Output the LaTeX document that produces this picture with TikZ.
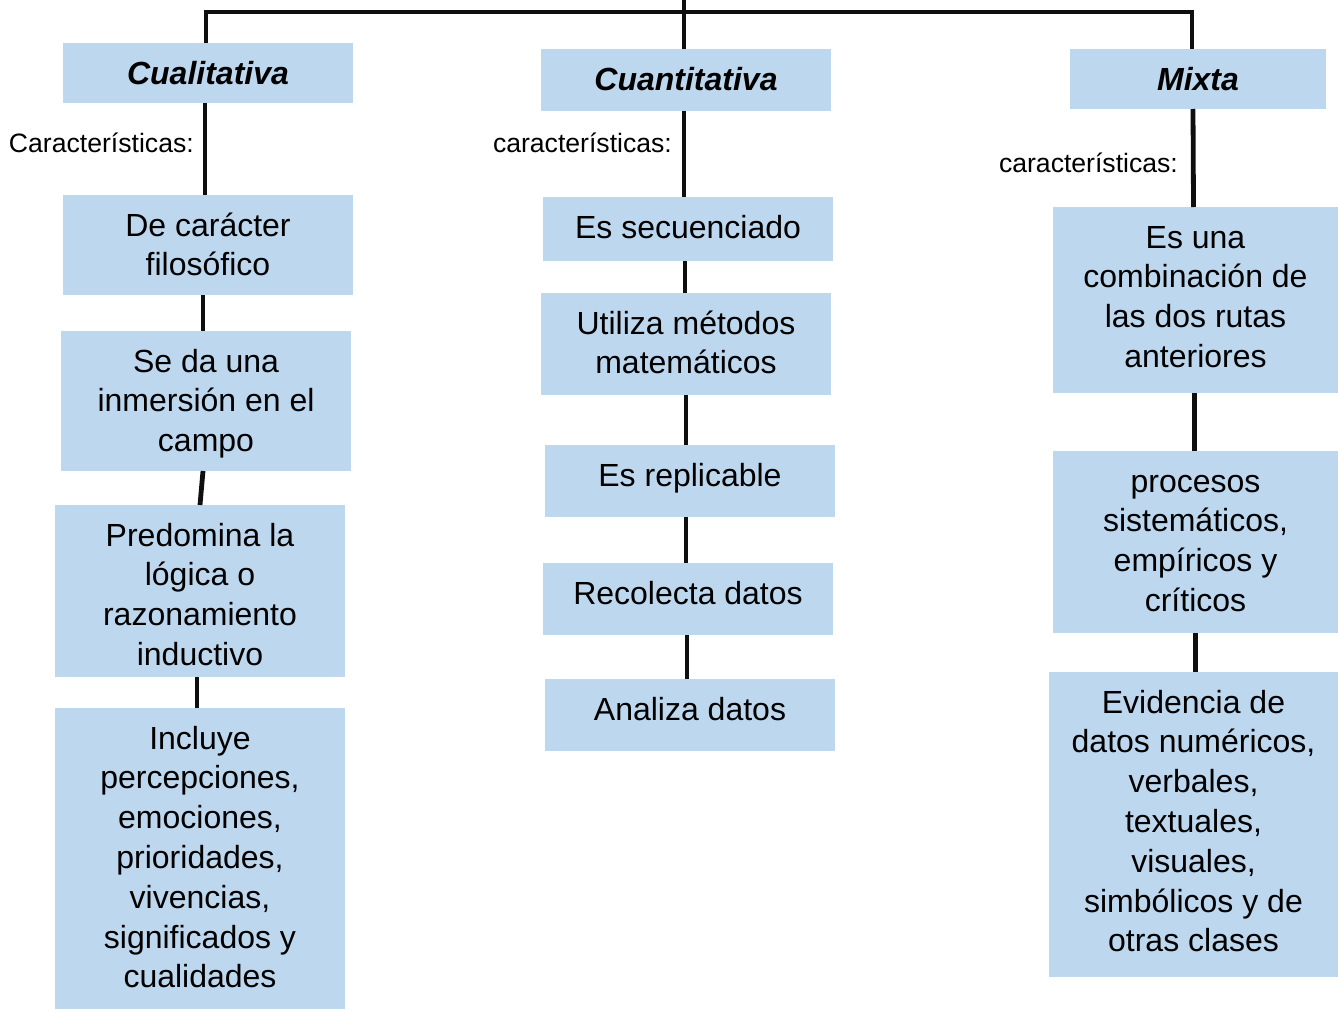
\documentclass[tikz,border=0pt]{standalone}
\usepackage{fontspec}
\setmainfont{Liberation Sans}
\definecolor{boxblue}{RGB}{189,215,238}
\definecolor{linegray}{RGB}{15,15,15}
\begin{document}
\begin{tikzpicture}[x=1pt,y=-1pt,
  box/.style={fill=boxblue,draw=none,inner sep=0pt,outer sep=0pt},
  conn/.style={draw=linegray,line width=4.8pt},
  txt/.style={inner sep=0pt,outer sep=0pt,anchor=base},
  lbl/.style={inner sep=0pt,outer sep=0pt,anchor=base west,font=\fontsize{26.6}{31}\selectfont}]
\useasboundingbox (0,0) rectangle (1338,1009);
\newcommand{\boxtext}[2]{\node[txt] at ([yshift=-41pt]#1.north) {\fontsize{32}{39.8}\selectfont\parbox[t]{400pt}{\centering #2}};}
% column 1
\node[box,minimum width=290,minimum height=60] (cual) at (208,73) {};
\node[box,minimum width=290,minimum height=100] (b11) at (208,245) {};
\node[box,minimum width=290,minimum height=140] (b12) at (206,401) {};
\node[box,minimum width=290,minimum height=172] (b13) at (200,591) {};
\node[box,minimum width=290,minimum height=301] (b14) at (200,858.5) {};
% column 2
\node[box,minimum width=290,minimum height=62] (cuant) at (686,80) {};
\node[box,minimum width=290,minimum height=64] (b21) at (688,229) {};
\node[box,minimum width=290,minimum height=102] (b22) at (686,344) {};
\node[box,minimum width=290,minimum height=72] (b23) at (690,481) {};
\node[box,minimum width=290,minimum height=72] (b24) at (688,599) {};
\node[box,minimum width=290,minimum height=72] (b25) at (690,715) {};
% column 3
\node[box,minimum width=256,minimum height=60] (mixta) at (1198,79) {};
\node[box,minimum width=285,minimum height=186] (b31) at (1195.5,300) {};
\node[box,minimum width=285,minimum height=182] (b32) at (1195.5,542) {};
\node[box,minimum width=289,minimum height=305] (b33) at (1193.5,824.5) {};
% texts
\boxtext{cual}{\bfseries\itshape Cualitativa}
\boxtext{b11}{De carácter\\filosófico}
\boxtext{b12}{Se da una\\inmersión en el\\campo}
\boxtext{b13}{Predomina la\\lógica o\\razonamiento\\inductivo}
\boxtext{b14}{Incluye\\percepciones,\\emociones,\\prioridades,\\vivencias,\\significados y\\cualidades}
\boxtext{cuant}{\bfseries\itshape Cuantitativa}
\boxtext{b21}{Es secuenciado}
\boxtext{b22}{Utiliza métodos\\matemáticos}
\boxtext{b23}{Es replicable}
\boxtext{b24}{Recolecta datos}
\boxtext{b25}{Analiza datos}
\boxtext{mixta}{\bfseries\itshape Mixta}
\boxtext{b31}{Es una\\combinación de\\las dos rutas\\anteriores}
\boxtext{b32}{procesos\\sistemáticos,\\empíricos y\\críticos}
\boxtext{b33}{Evidencia de\\datos numéricos,\\verbales,\\textuales,\\visuales,\\simbólicos y de\\otras clases}
% labels
\node[lbl] (l1) at (9,152) {Características:};
\node[lbl] (l2) at (493,152) {características:};
\node[lbl] (l3) at (999,172) {características:};
% connectors
\coordinate (top) at (684,0);
\draw[conn] ([xshift=-2pt]cual.north) -- ++(0,-31) -| ([xshift=-6pt]mixta.north);
\draw[conn] (top) -- ([xshift=-2pt]cuant.north);
\draw[conn] ([xshift=-3pt]cual.south) -- ([xshift=-3pt]b11.north);
\draw[conn] ([xshift=-5pt]b11.south) -- ([xshift=-3pt]b12.north);
\draw[conn] ([xshift=-3pt]b12.south) -- (b13.north);
\draw[conn] ([xshift=-3pt]b13.south) -- ([xshift=-3pt]b14.north);
\draw[conn] ([xshift=-2pt]cuant.south) -- ([xshift=-4pt]b21.north);
\draw[conn] ([xshift=-3pt]b21.south) -- ([xshift=-1pt]b22.north);
\draw[conn] (b22.south) -- ([xshift=-4pt]b23.north);
\draw[conn] ([xshift=-4pt]b23.south) -- ([xshift=-2pt]b24.north);
\draw[conn] ([xshift=-1pt]b24.south) -- ([xshift=-3pt]b25.north);
\draw[conn] ([xshift=-5pt]mixta.south) -- ([xshift=-2pt]b31.north);
\draw[conn] ([xshift=-1pt]b31.south) -- ([xshift=-1pt]b32.north);
\draw[conn] (b32.south) -- ([xshift=2pt]b33.north);
\end{tikzpicture}
\end{document}
